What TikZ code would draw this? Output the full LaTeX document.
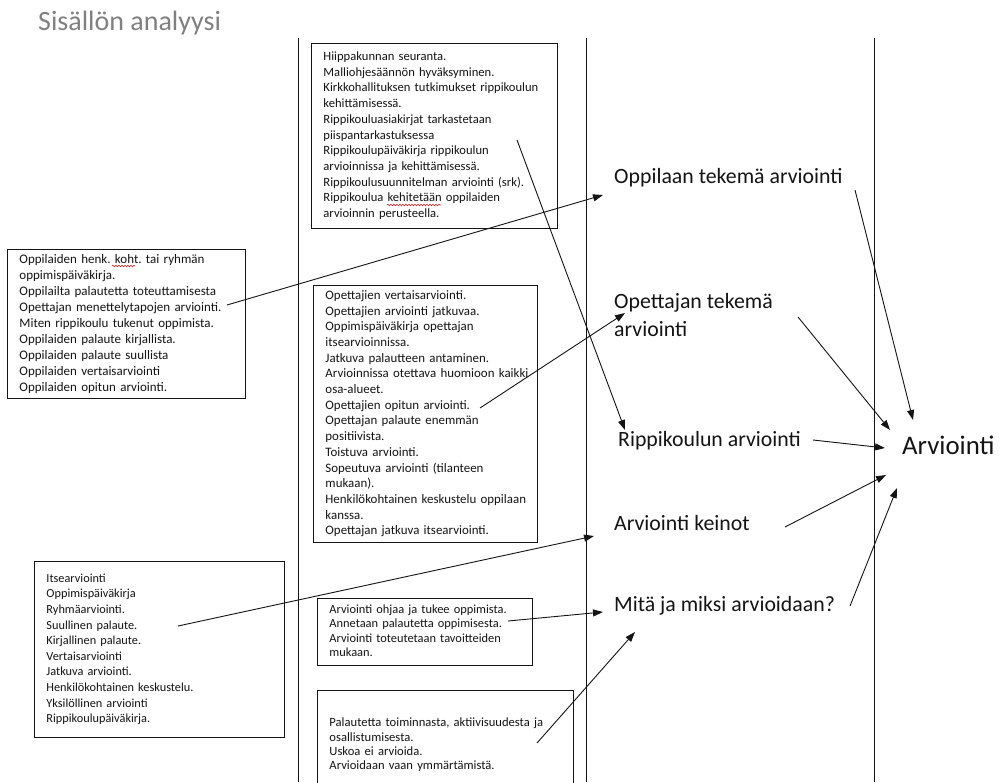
\documentclass[tikz,border=0pt]{standalone}
\usepackage{fontspec}
\setmainfont{Carlito}
\usetikzlibrary{arrows.meta,decorations.pathmorphing}
\definecolor{titlegray}{RGB}{128,128,128}
\definecolor{ink}{RGB}{20,20,20}
\definecolor{spellred}{RGB}{220,30,30}
\newcommand\boxlines[1]{\begin{tabular}{@{}l@{}}#1\end{tabular}}
\frenchspacing
\begin{document}
\begin{tikzpicture}[x=1pt,y=-1pt]
\tikzset{
  txtbox/.style={draw=ink, line width=0.9pt, anchor=north west, inner xsep=12pt, inner ysep=0pt, align=left, text=ink},
  head/.style={anchor=base west, inner sep=0pt, text=ink, font=\fontsize{21.8}{28}\selectfont},
  conn/.style={draw=ink, line width=0.9pt, -{Triangle[length=10pt,width=7pt]}},
  colline/.style={draw=ink, line width=1pt},
  spellmark/.style={draw=spellred, line width=0.6pt, decorate, decoration={snake, amplitude=0.8pt, segment length=3pt}}
}
\useasboundingbox (0,0) rectangle (1000,782);
\fill[white] (0,0) rectangle (1000,782);
\clip (0,0) rectangle (1000,782);

% title
\node[anchor=base west, inner sep=0pt, text=titlegray, font=\fontsize{28}{33}\selectfont] (title) at (38,30) {Sisällön analyysi};

% column lines
\coordinate (c1t) at (298,38); \coordinate (c1b) at (298,782);
\coordinate (c2t) at (586,38); \coordinate (c2b) at (586,782);
\coordinate (c3t) at (874,38); \coordinate (c3b) at (874,782);
\draw[colline] (c1t) -- (c1b);
\draw[colline] (c2t) -- (c2b);
\draw[colline] (c3t) -- (c3b);

% boxes
\node[txtbox, text width=222pt, minimum height=185pt, font=\fontsize{12.6}{15.7}\selectfont] (A) at (311,43) {\boxlines{%
Hiippakunnan seuranta.\\
Malliohjesäännön hyväksyminen.\\
Kirkkohallituksen tutkimukset rippikoulun\\
kehittämisessä.\\
Rippikouluasiakirjat tarkastetaan\\
piispantarkastuksessa\\
Rippikoulupäiväkirja rippikoulun\\
arvioinnissa ja kehittämisessä.\\
Rippikoulusuunnitelman arviointi (srk).\\
Rippikoulua kehitetään oppilaiden\\
arvioinnin perusteella.}};

\node[txtbox, text width=214pt, minimum height=149pt, font=\fontsize{13}{16}\selectfont] (B) at (7,249) {\boxlines{%
Oppilaiden henk. koht. tai ryhmän\\
oppimispäiväkirja.\\
Oppilailta palautetta toteuttamisesta\\
Opettajan menettelytapojen arviointi.\\
Miten rippikoulu tukenut oppimista.\\
Oppilaiden palaute kirjallista.\\
Oppilaiden palaute suullista\\
Oppilaiden vertaisarviointi\\
Oppilaiden opitun arviointi.}};

\node[txtbox, text width=200pt, minimum height=257pt, font=\fontsize{12.9}{15.7}\selectfont] (C) at (313,285) {\boxlines{%
Opettajien vertaisarviointi.\\
Opettajien arviointi jatkuvaa.\\
Oppimispäiväkirja opettajan\\
itsearvioinnissa.\\
Jatkuva palautteen antaminen.\\
Arvioinnissa otettava huomioon kaikki\\
osa-alueet.\\
Opettajien opitun arviointi.\\
Opettajan palaute enemmän\\
positiivista.\\
Toistuva arviointi.\\
Sopeutuva arviointi (tilanteen\\
mukaan).\\
Henkilökohtainen keskustelu oppilaan\\
kanssa.\\
Opettajan jatkuva itsearviointi.}};

\node[txtbox, text width=226pt, minimum height=176pt, font=\fontsize{12.3}{15.6}\selectfont] (D) at (34,561) {\boxlines{%
Itsearviointi\\
Oppimispäiväkirja\\
Ryhmäarviointi.\\
Suullinen palaute.\\
Kirjallinen palaute.\\
Vertaisarviointi\\
Jatkuva arviointi.\\
Henkilökohtainen keskustelu.\\
Yksilöllinen arviointi\\
Rippikoulupäiväkirja.}};

\node[txtbox, text width=191pt, minimum height=67pt, font=\fontsize{12.4}{14.5}\selectfont] (E) at (317,598) {\boxlines{%
Arviointi ohjaa ja tukee oppimista.\\
Annetaan palautetta oppimisesta.\\
Arviointi toteutetaan tavoitteiden\\
mukaan.}};

\node[txtbox, text width=232pt, minimum height=110pt, font=\fontsize{12.6}{14.4}\selectfont] (F) at (317,690) {\boxlines{%
Palautetta toiminnasta, aktiivisuudesta ja\\
osallistumisesta.\\
Uskoa ei arvioida.\\
Arvioidaan vaan ymmärtämistä.}};

% spell-check marks
\coordinate (wA1) at (387,205); \coordinate (wA2) at (441,205);
\coordinate (wB1) at (112,266); \coordinate (wB2) at (135,266);
\draw[spellmark] (wA1) -- (wA2);
\draw[spellmark] (wB1) -- (wB2);

% headings
\node[head] (h1) at (614,183) {Oppilaan tekemä arviointi};
\node[head] (h2) at (614,308) {\begin{tabular}[t]{@{}l@{}}Opettajan tekemä\\arviointi\end{tabular}};
\node[head] (h3) at (618,446) {Rippikoulun arviointi};
\node[head] (h4) at (614,530) {Arviointi keinot};
\node[head] (h5) at (614,611) {Mitä ja miksi arvioidaan?};
\node[anchor=base west, inner sep=0pt, text=ink, font=\fontsize{26.8}{32}\selectfont] (arv) at (902,454) {Arviointi};

% connector ends
\coordinate (sB) at (227,305);  \coordinate (t1) at (603,195);
\coordinate (sA) at (517,140);  \coordinate (t3) at (625,430);
\coordinate (sC) at (480,408);  \coordinate (t2) at (625,313);
\coordinate (sD) at (178,626);  \coordinate (t4) at (594,536);
\coordinate (sE) at (508,621);  \coordinate (t5a) at (603,612);
\coordinate (sF) at (537,743);  \coordinate (t5b) at (635,632);
\coordinate (s1) at (855,190);  \coordinate (a1) at (913,420);
\coordinate (s2) at (798,317);  \coordinate (a2) at (890,430);
\coordinate (s3) at (813,440);  \coordinate (a3) at (885,448);
\coordinate (s4) at (785,527);  \coordinate (a4) at (886,475);
\coordinate (s5) at (850,606);  \coordinate (a5) at (897,488);

\draw[conn] (sB) -- (t1);
\draw[conn] (sA) -- (t3);
\draw[conn] (sC) -- (t2);
\draw[conn] (sD) -- (t4);
\draw[conn] (sE) -- (t5a);
\draw[conn] (sF) -- (t5b);
\draw[conn] (s1) -- (a1);
\draw[conn] (s2) -- (a2);
\draw[conn] (s3) -- (a3);
\draw[conn] (s4) -- (a4);
\draw[conn] (s5) -- (a5);
\end{tikzpicture}
\end{document}
